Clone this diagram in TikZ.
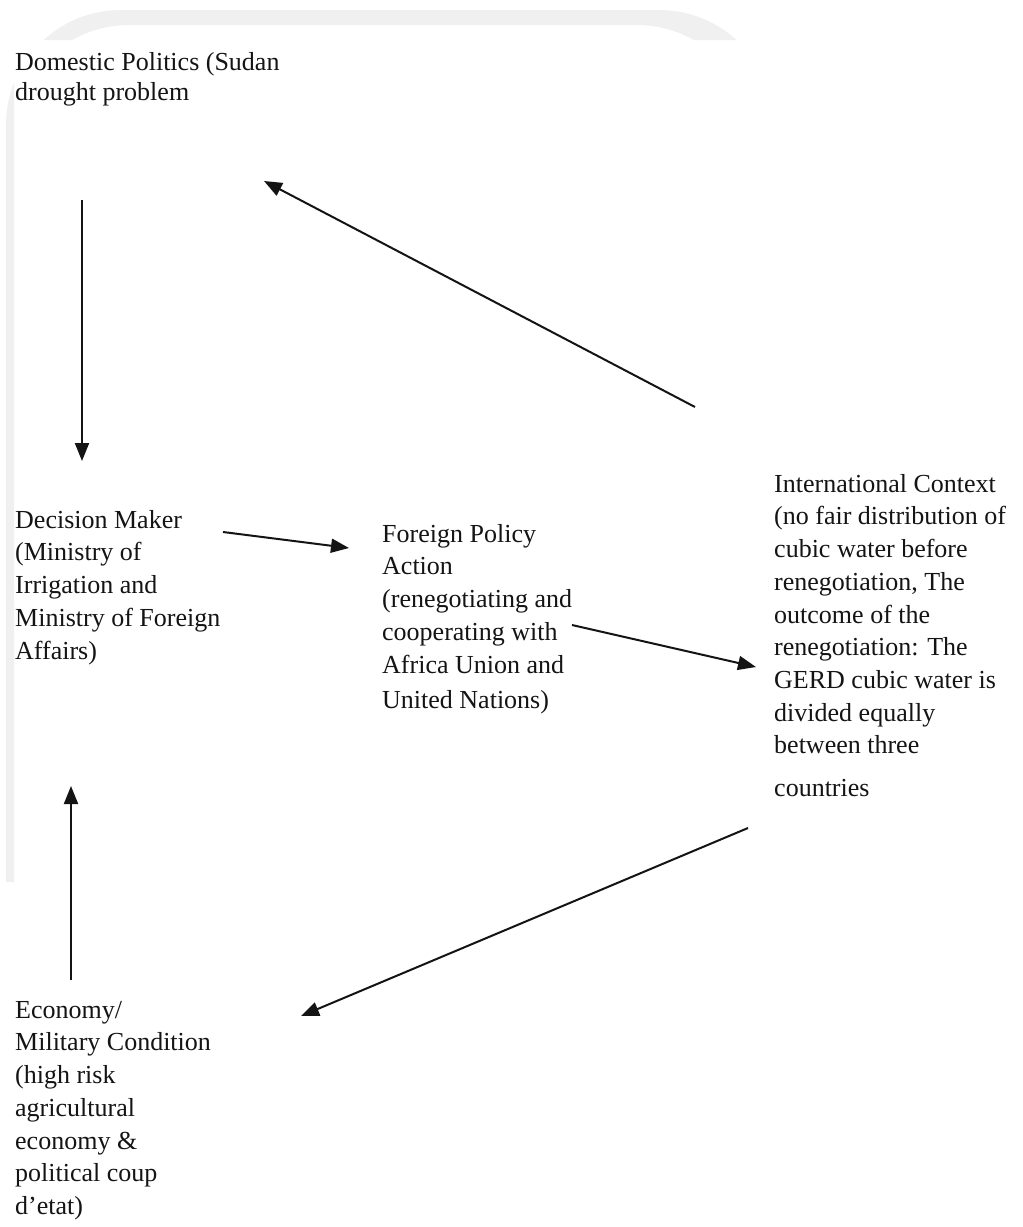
\documentclass[tikz,border=0pt]{standalone}
\usepackage{fontspec}
\setmainfont{Liberation Serif}
\usetikzlibrary{arrows.meta}
\tikzset{
  txt/.style={anchor=north west, inner sep=0pt, align=left,
    font=\fontsize{26}{32.7}\selectfont, text=black!92},
  arr/.style={line width=2pt, black!92, -{Triangle[length=18pt,width=14pt]}},
  band/.style={fill=black!6, even odd rule, rounded corners=115pt}
}
\begin{document}
\begin{tikzpicture}[x=1pt,y=-1pt]
\useasboundingbox[fill=white] (0,0) rectangle (1023,1227);
% faint background frame
\begin{scope}
  \clip (0,0) rectangle (800,40) (0,0) rectangle (14,882);
  \path[band] (6,10) rectangle (774,1100) (14,25) rectangle (752,1100);
\end{scope}
% texts
\node[txt, font=\fontsize{26}{30}\selectfont] (dom) at (15,50)
  {\rule{0pt}{20pt}Domestic Politics (Sudan\\drought problem};
\node[txt] (dec) at (15,508)
  {\rule{0pt}{20pt}Decision Maker\\(Ministry of\\Irrigation and\\Ministry of Foreign\\Affairs)};
\node[txt] (fpa) at (382,522)
  {\rule{0pt}{20pt}Foreign Policy\\Action\\(renegotiating and\\cooperating with\\Africa Union and\\[3pt]United Nations)};
\node[txt] (int) at (774,472)
  {\rule{0pt}{20pt}International Context\\(no fair distribution of\\cubic water before\\renegotiation, The\\outcome of the\\renegotiation: The\\GERD cubic water is\\divided equally\\between three\\[10pt]countries};
\node[txt] (eco) at (15,998)
  {\rule{0pt}{20pt}Economy/\\Military Condition\\(high risk\\agricultural\\economy \&\\political coup\\d’etat)};
% connector end points
\coordinate (dom-out) at (82,200);
\coordinate (dec-in)  at (82,461);
\coordinate (int-up)  at (695,407);
\coordinate (dom-in)  at (264,181);
\coordinate (dec-out) at (223,532);
\coordinate (fpa-in)  at (349,548);
\coordinate (fpa-out) at (572,625);
\coordinate (int-in)  at (756,667);
\coordinate (int-out) at (748,828);
\coordinate (eco-in)  at (301,1016);
\coordinate (eco-out) at (71,980);
\coordinate (dec-in2) at (71,786);
% connectors
\draw[arr] (dom-out) -- (dec-in);
\draw[arr] (int-up) -- (dom-in);
\draw[arr] (dec-out) -- (fpa-in);
\draw[arr] (fpa-out) -- (int-in);
\draw[arr] (int-out) -- (eco-in);
\draw[arr] (eco-out) -- (dec-in2);
\end{tikzpicture}
\end{document}
